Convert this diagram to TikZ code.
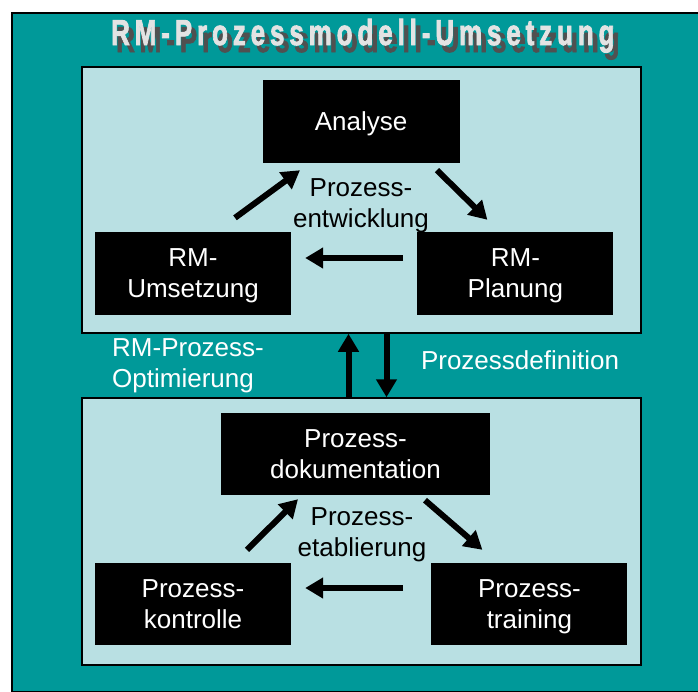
\documentclass[tikz,border=0pt]{standalone}
\usepackage{fontspec}
\setmainfont{Liberation Sans}
\usepackage{xcolor}
\usepackage{tikz}
\usetikzlibrary{arrows.meta, positioning, calc}

\definecolor{tealbg}{RGB}{0,153,153}
\definecolor{panelbg}{RGB}{185,224,227}
\definecolor{shadowgray}{RGB}{80,80,80}

\newcommand{\titletext}{RM-Prozessmodell-Umsetzung}

\begin{document}
\begin{tikzpicture}[x=1pt, y=-1pt, font=\fontsize{26}{31}\selectfont]
        \tikzstyle{panel} = [rectangle, draw=black, line width=1.5pt, fill=panelbg, minimum width=559pt, inner sep=0pt]
        \tikzstyle{block} = [rectangle, fill=black, text=white, align=center, text depth=0pt, minimum width=196pt, minimum height=83pt, inner sep=0pt]
        \tikzstyle{line} = [draw, line width=6pt, -{Triangle[length=18pt, width=20pt]}]
        \tikzstyle{title} = [font=\fontsize{36}{40}\bfseries\addfontfeature{LetterSpace=19, FakeBold=2.5}, xscale=0.72, anchor=base west, inner sep=0pt]

        \useasboundingbox (0,0) rectangle (698,691);
        \fill[white] (0,0) rectangle (698,691);
        \draw[fill=tealbg, line width=1.5pt] (12,13) rectangle (699,692);

        % title with its shadow in one node
        \node [title] (title) at (111,45) {\rlap{\hspace{7pt}\raisebox{-7pt}{\color{shadowgray}\titletext}}\color{gray!22}\titletext};

        \node [panel, minimum height=266pt] (upper) at (361.5,200) {};
        \node [panel, minimum height=267pt] (lower) at (361.5,531.5) {};

        \node [block, minimum width=197pt] (analyse) at (361,121.5) {Analyse};
        \node [block] (umsetz) at (193,273.5) {RM-\\Umsetzung};
        \node [block, right=126pt of umsetz] (planung) {RM-\\Planung};

        \node [block, minimum width=269pt, minimum height=82pt] (doku) at (355.5,454) {Prozess-\\dokumentation};
        \node [block, minimum height=82pt] (kontrolle) at (193,604) {Prozess-\\kontrolle};
        \node [block, minimum height=82pt, right=140pt of kontrolle] (training) {Prozess-\\training};

        \node [align=center, text depth=0pt] (entw) at (361,203) {Prozess-\\entwicklung};
        \node [align=center, text depth=0pt] (etab) at (362,532) {Prozess-\\etablierung};
        \node [align=left, text=white, anchor=west, inner sep=0pt, text depth=0pt] (optim) at (112,363) {RM-Prozess-\\Optimierung};
        \node [text=white, inner sep=0pt, text depth=0pt] (definition) at (520,360) {Prozessdefinition};

        \path [line] ([xshift=42pt, yshift=14pt]umsetz.north) -- ([xshift=-61pt, yshift=-7pt]analyse.south);
        \path [line] ([xshift=76pt, yshift=-7pt]analyse.south) -- ([xshift=-28pt, yshift=12pt]planung.north);
        \path [line] ([xshift=-14pt, yshift=15.5pt]planung.west) -- ([xshift=14pt, yshift=15.5pt]umsetz.east);

        \path [line] ([xshift=54pt, yshift=13pt]kontrolle.north) -- ([xshift=-57.5pt, yshift=-4pt]doku.south);
        \path [line] ([xshift=69.5pt, yshift=-5pt]doku.south) -- ([xshift=-47pt, yshift=13pt]training.north);
        \path [line] ([xshift=-28pt, yshift=16pt]training.west) -- ([xshift=14pt, yshift=16pt]kontrolle.east);

        \path [line] ([xshift=-13pt]lower.north) -- ([xshift=-13pt]upper.south);
        \path [line] ([xshift=25pt]upper.south) -- ([xshift=25pt]lower.north);
\end{tikzpicture}
\end{document}
